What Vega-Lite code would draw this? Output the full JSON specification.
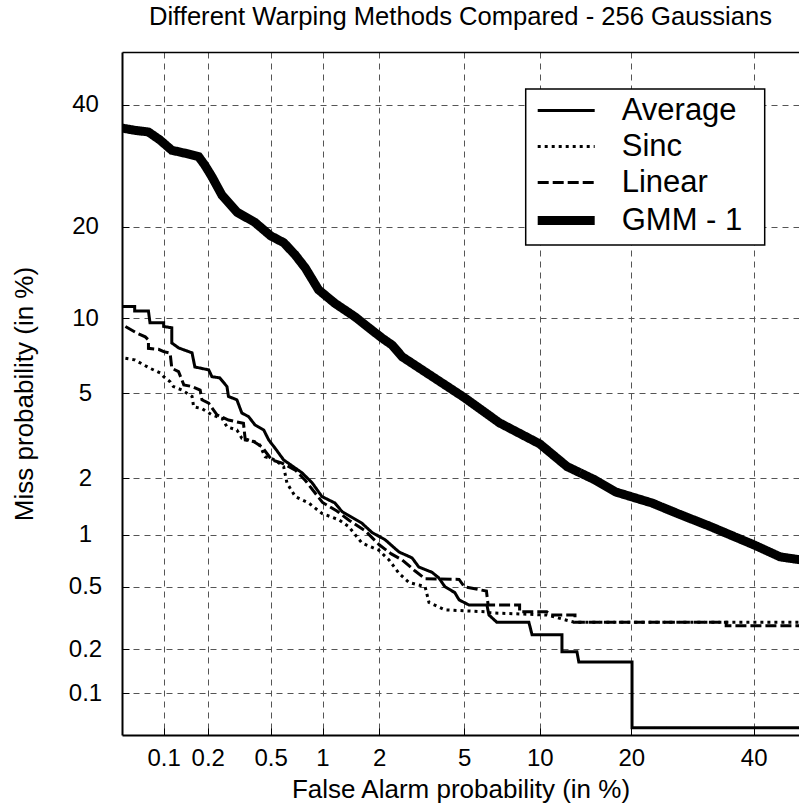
{
  "$schema": "https://vega.github.io/schema/vega-lite/v6.json",
  "autosize": {"type": "none"},
  "padding": {"left": 122, "top": 52, "right": 0, "bottom": 77},
  "width": 677,
  "height": 683,
  "title": {"text": "Different Warping Methods Compared - 256 Gaussians", "fontSize": 25.6, "fontWeight": "normal", "font": "Liberation Sans", "baseline": "alphabetic", "offset": 1, "anchor": "middle", "color": "black"},
  "config": {
    "view": {"stroke": null},
    "font": "Liberation Sans",
    "legend": {
      "orient": "none", "legendX": 403.7, "legendY": 37,
      "fillColor": "white", "strokeColor": "black", "strokeWidth": 1.5,
      "padding": 6, "labelFontSize": 31, "labelColor": "black", "labelFont": "Liberation Sans",
      "symbolType": "M-1,0H5M-1.56,0L-1.56,0M20.36,0L20.36,0", "symbolSize": 361, "labelOffset": 59, "rowPadding": 4,
      "symbolStrokeColor": "black", "symbolFillColor": "transparent", "title": null
    }
  },
  "datasets": {
    "det": [
      {"s":"Average","fa":0.05,"miss":11.0},{"s":"Average","fa":0.062,"miss":11.0},{"s":"Average","fa":0.062,"miss":10.6},{"s":"Average","fa":0.078,"miss":10.6},{"s":"Average","fa":0.08,"miss":9.6},{"s":"Average","fa":0.1,"miss":9.6},{"s":"Average","fa":0.1,"miss":9.3},{"s":"Average","fa":0.114,"miss":9.2},{"s":"Average","fa":0.114,"miss":8.05},{"s":"Average","fa":0.127,"miss":7.7},{"s":"Average","fa":0.157,"miss":7.36},{"s":"Average","fa":0.164,"miss":6.46},{"s":"Average","fa":0.203,"miss":6.28},{"s":"Average","fa":0.213,"miss":5.89},{"s":"Average","fa":0.24,"miss":5.82},{"s":"Average","fa":0.267,"miss":5.35},{"s":"Average","fa":0.273,"miss":4.85},{"s":"Average","fa":0.309,"miss":4.69},{"s":"Average","fa":0.332,"miss":4.1},{"s":"Average","fa":0.366,"miss":3.95},{"s":"Average","fa":0.401,"miss":3.62},{"s":"Average","fa":0.454,"miss":3.43},{"s":"Average","fa":0.487,"miss":3.08},{"s":"Average","fa":0.531,"miss":2.82},{"s":"Average","fa":0.598,"miss":2.47},{"s":"Average","fa":0.766,"miss":2.13},{"s":"Average","fa":0.873,"miss":1.9},{"s":"Average","fa":0.993,"miss":1.61},{"s":"Average","fa":1.17,"miss":1.49},{"s":"Average","fa":1.28,"miss":1.34},{"s":"Average","fa":1.63,"miss":1.16},{"s":"Average","fa":1.84,"miss":1.03},{"s":"Average","fa":2.14,"miss":0.94},{"s":"Average","fa":2.51,"miss":0.8},{"s":"Average","fa":2.9,"miss":0.74},{"s":"Average","fa":3.12,"miss":0.655},{"s":"Average","fa":3.59,"miss":0.61},{"s":"Average","fa":3.86,"miss":0.565},{"s":"Average","fa":4.11,"miss":0.5},{"s":"Average","fa":4.55,"miss":0.46},{"s":"Average","fa":4.75,"miss":0.415},{"s":"Average","fa":5.24,"miss":0.386},{"s":"Average","fa":6.23,"miss":0.386},{"s":"Average","fa":6.35,"miss":0.334},{"s":"Average","fa":6.84,"miss":0.3},{"s":"Average","fa":9.11,"miss":0.3},{"s":"Average","fa":9.36,"miss":0.25},{"s":"Average","fa":12.0,"miss":0.25},{"s":"Average","fa":12.0,"miss":0.193},{"s":"Average","fa":13.5,"miss":0.193},{"s":"Average","fa":13.7,"miss":0.165},{"s":"Average","fa":20.1,"miss":0.165},{"s":"Average","fa":20.1,"miss":0.0565},{"s":"Average","fa":49,"miss":0.0565},
      {"s":"Sinc","fa":0.053,"miss":7.0},{"s":"Sinc","fa":0.062,"miss":6.9},{"s":"Sinc","fa":0.08,"miss":6.38},{"s":"Sinc","fa":0.095,"miss":6.09},{"s":"Sinc","fa":0.1,"miss":5.89},{"s":"Sinc","fa":0.111,"miss":5.61},{"s":"Sinc","fa":0.117,"miss":5.35},{"s":"Sinc","fa":0.134,"miss":5.17},{"s":"Sinc","fa":0.157,"miss":4.85},{"s":"Sinc","fa":0.161,"miss":4.37},{"s":"Sinc","fa":0.183,"miss":4.29},{"s":"Sinc","fa":0.213,"miss":4.02},{"s":"Sinc","fa":0.248,"miss":3.88},{"s":"Sinc","fa":0.267,"miss":3.55},{"s":"Sinc","fa":0.309,"miss":3.43},{"s":"Sinc","fa":0.332,"miss":3.14},{"s":"Sinc","fa":0.366,"miss":3.08},{"s":"Sinc","fa":0.423,"miss":2.98},{"s":"Sinc","fa":0.463,"miss":2.56},{"s":"Sinc","fa":0.531,"miss":2.47},{"s":"Sinc","fa":0.598,"miss":2.29},{"s":"Sinc","fa":0.626,"miss":1.89},{"s":"Sinc","fa":0.7,"miss":1.61},{"s":"Sinc","fa":0.836,"miss":1.49},{"s":"Sinc","fa":0.993,"miss":1.31},{"s":"Sinc","fa":1.23,"miss":1.21},{"s":"Sinc","fa":1.39,"miss":1.11},{"s":"Sinc","fa":1.63,"miss":0.9},{"s":"Sinc","fa":1.99,"miss":0.82},{"s":"Sinc","fa":2.24,"miss":0.72},{"s":"Sinc","fa":2.51,"miss":0.6},{"s":"Sinc","fa":2.8,"miss":0.53},{"s":"Sinc","fa":3.34,"miss":0.5},{"s":"Sinc","fa":3.48,"miss":0.4},{"s":"Sinc","fa":4.11,"miss":0.36},{"s":"Sinc","fa":6.1,"miss":0.35},{"s":"Sinc","fa":6.35,"miss":0.345},{"s":"Sinc","fa":10.6,"miss":0.334},{"s":"Sinc","fa":13.3,"miss":0.3},{"s":"Sinc","fa":49,"miss":0.3},
      {"s":"Linear","fa":0.053,"miss":9.3},{"s":"Linear","fa":0.064,"miss":8.8},{"s":"Linear","fa":0.074,"miss":8.5},{"s":"Linear","fa":0.078,"miss":8.27},{"s":"Linear","fa":0.078,"miss":7.67},{"s":"Linear","fa":0.092,"miss":7.6},{"s":"Linear","fa":0.1,"miss":7.44},{"s":"Linear","fa":0.111,"miss":7.34},{"s":"Linear","fa":0.114,"miss":6.38},{"s":"Linear","fa":0.127,"miss":6.18},{"s":"Linear","fa":0.138,"miss":5.44},{"s":"Linear","fa":0.157,"miss":5.35},{"s":"Linear","fa":0.178,"miss":5.17},{"s":"Linear","fa":0.183,"miss":4.69},{"s":"Linear","fa":0.203,"miss":4.53},{"s":"Linear","fa":0.23,"miss":4.02},{"s":"Linear","fa":0.273,"miss":3.81},{"s":"Linear","fa":0.34,"miss":3.68},{"s":"Linear","fa":0.349,"miss":3.08},{"s":"Linear","fa":0.393,"miss":3.03},{"s":"Linear","fa":0.442,"miss":2.86},{"s":"Linear","fa":0.508,"miss":2.47},{"s":"Linear","fa":0.585,"miss":2.38},{"s":"Linear","fa":0.7,"miss":2.2},{"s":"Linear","fa":0.8,"miss":1.95},{"s":"Linear","fa":1.0,"miss":1.5},{"s":"Linear","fa":1.2,"miss":1.35},{"s":"Linear","fa":1.4,"miss":1.2},{"s":"Linear","fa":1.7,"miss":1.05},{"s":"Linear","fa":2.0,"miss":0.88},{"s":"Linear","fa":2.3,"miss":0.78},{"s":"Linear","fa":2.6,"miss":0.72},{"s":"Linear","fa":3.0,"miss":0.62},{"s":"Linear","fa":3.34,"miss":0.557},{"s":"Linear","fa":4.75,"miss":0.553},{"s":"Linear","fa":5.0,"miss":0.5},{"s":"Linear","fa":6.2,"miss":0.47},{"s":"Linear","fa":6.3,"miss":0.386},{"s":"Linear","fa":8.4,"miss":0.386},{"s":"Linear","fa":8.4,"miss":0.35},{"s":"Linear","fa":10.6,"miss":0.35},{"s":"Linear","fa":11.0,"miss":0.334},{"s":"Linear","fa":13.3,"miss":0.334},{"s":"Linear","fa":13.3,"miss":0.3},{"s":"Linear","fa":35,"miss":0.3},{"s":"Linear","fa":35,"miss":0.285},{"s":"Linear","fa":49,"miss":0.285},
      {"s":"GMM - 1","fa":0.05,"miss":35.7},{"s":"GMM - 1","fa":0.062,"miss":35.3},{"s":"GMM - 1","fa":0.078,"miss":35.0},{"s":"GMM - 1","fa":0.094,"miss":33.6},{"s":"GMM - 1","fa":0.114,"miss":31.8},{"s":"GMM - 1","fa":0.14,"miss":31.3},{"s":"GMM - 1","fa":0.174,"miss":30.7},{"s":"GMM - 1","fa":0.191,"miss":29.3},{"s":"GMM - 1","fa":0.213,"miss":27.4},{"s":"GMM - 1","fa":0.248,"miss":24.5},{"s":"GMM - 1","fa":0.31,"miss":22.0},{"s":"GMM - 1","fa":0.4,"miss":20.6},{"s":"GMM - 1","fa":0.5,"miss":18.8},{"s":"GMM - 1","fa":0.6,"miss":17.9},{"s":"GMM - 1","fa":0.7,"miss":16.4},{"s":"GMM - 1","fa":0.8,"miss":14.9},{"s":"GMM - 1","fa":0.95,"miss":12.6},{"s":"GMM - 1","fa":1.17,"miss":11.3},{"s":"GMM - 1","fa":1.5,"miss":10.1},{"s":"GMM - 1","fa":1.77,"miss":9.2},{"s":"GMM - 1","fa":2.07,"miss":8.4},{"s":"GMM - 1","fa":2.32,"miss":7.9},{"s":"GMM - 1","fa":2.6,"miss":7.1},{"s":"GMM - 1","fa":3.5,"miss":6.0},{"s":"GMM - 1","fa":5.0,"miss":4.8},{"s":"GMM - 1","fa":7.0,"miss":3.7},{"s":"GMM - 1","fa":10,"miss":2.95},{"s":"GMM - 1","fa":12.5,"miss":2.29},{"s":"GMM - 1","fa":15.5,"miss":1.96},{"s":"GMM - 1","fa":18,"miss":1.7},{"s":"GMM - 1","fa":22.9,"miss":1.49},{"s":"GMM - 1","fa":27,"miss":1.3},{"s":"GMM - 1","fa":32,"miss":1.12},{"s":"GMM - 1","fa":40,"miss":0.88},{"s":"GMM - 1","fa":45,"miss":0.75},{"s":"GMM - 1","fa":49,"miss":0.72}
    ]
  },
  "data": {"name": "det"},
  "transform": [
    {"calculate": "quantileNormal(datum.fa/100)", "as": "x"},
    {"calculate": "quantileNormal(datum.miss/100)", "as": "y"}
  ],
  "layer": [
    {
      "mark": {"type": "line", "clip": true, "color": "black", "strokeCap": "butt", "strokeJoin": "miter"},
      "encoding": {
        "x": {
          "field": "x", "type": "quantitative",
          "scale": {"domain": [-3.2905, -0.0352], "nice": false, "zero": false},
          "axis": {
            "orient": "bottom",
            "values": [-3.090232, -2.878162, -2.575829, -2.326348, -2.053749, -1.644854, -1.281552, -0.841621, -0.253347],
            "labelExpr": "format(cumulativeNormal(datum.value)*100, '.2~f')",
            "title": "False Alarm probability (in %)", "titleFontSize": 26, "titleFontWeight": "normal", "titleColor": "black", "titleFont": "Liberation Sans",
            "titleBaseline": "alphabetic", "titleY": 62.5,
            "labelFontSize": 24, "labelColor": "black", "labelFont": "Liberation Sans", "labelBaseline": "alphabetic", "labelPadding": 37,
            "labelFlush": false, "labelOverlap": false,
            "ticks": true, "tickSize": -7, "tickColor": "black", "tickWidth": 1,
            "domainColor": "black", "domainWidth": 2,
            "grid": true, "gridColor": "#555555", "gridDash": [6, 5], "gridWidth": 1
          }
        },
        "y": {
          "field": "y", "type": "quantitative",
          "scale": {"domain": [-3.2905, 0], "nice": false, "zero": false},
          "axis": {
            "values": [-3.090232, -2.878162, -2.575829, -2.326348, -2.053749, -1.644854, -1.281552, -0.841621, -0.253347],
            "labelExpr": "format(cumulativeNormal(datum.value)*100, '.2~f')",
            "title": "Miss probability (in %)", "titleFontSize": 26, "titleFontWeight": "normal", "titleColor": "black", "titleFont": "Liberation Sans",
            "titleBaseline": "alphabetic", "titleX": -90,
            "labelFontSize": 24, "labelColor": "black", "labelFont": "Liberation Sans", "labelAlign": "center", "labelBaseline": "middle", "labelPadding": 44,
            "labelFlush": false, "labelOverlap": false,
            "ticks": true, "tickSize": -7, "tickColor": "black", "tickWidth": 1,
            "domainColor": "black", "domainWidth": 2,
            "grid": true, "gridColor": "#555555", "gridDash": [6, 5], "gridWidth": 1
          }
        },
        "strokeDash": {
          "field": "s", "type": "nominal",
          "scale": {"domain": ["Average", "Sinc", "Linear", "GMM - 1"], "range": [[1, 0], [3, 4], [11, 4], [1, 0]]},
          "legend": {"title": null}
        },
        "strokeWidth": {
          "field": "s", "type": "nominal",
          "scale": {"type": "ordinal", "domain": ["Average", "Sinc", "Linear", "GMM - 1"], "range": [3, 3, 3, 9]},
          "legend": {"title": null}
        },
        "order": {"value": null}
      }
    },
    {
      "mark": {"type": "point", "opacity": 0},
      "encoding": {
        "x": {
          "field": "x", "type": "quantitative",
          "scale": {"domain": [-3.2905, -0.0352], "nice": false, "zero": false},
          "axis": {"orient": "top", "labels": false, "ticks": false, "grid": false, "domainColor": "black", "domainWidth": 1.5, "title": null}
        },
        "y": {
          "field": "y", "type": "quantitative",
          "scale": {"domain": [-3.2905, 0], "nice": false, "zero": false}
        }
      }
    }
  ],
  "resolve": {"axis": {"x": "independent"}}
}
